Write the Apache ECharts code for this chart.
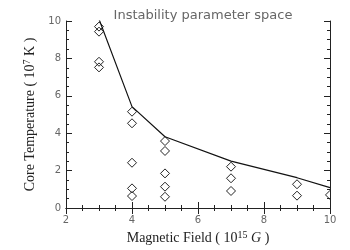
<!DOCTYPE html>
<html><head><meta charset="utf-8">
<script src="https://cdn.jsdelivr.net/npm/echarts@6/dist/echarts.min.js"></script>
<style>html,body{margin:0;padding:0;background:#fff}#c{width:350px;height:250px}</style>
</head><body><div id="c"></div>
<script>
var pointX = [3, 3, 3, 3, 4, 4, 4, 4, 4, 5, 5, 5, 5, 5, 7, 7, 7, 9, 9, 10];
var pointY = [9.70, 9.43, 7.82, 7.52, 5.15, 4.53, 2.42, 1.05, 0.64, 3.58, 3.05, 1.85, 1.14, 0.60, 2.21, 1.59, 0.91, 1.27, 0.66, 0.70];
var lineX = [3, 4, 5, 7, 9, 10];
var lineY = [10.1, 5.42, 3.81, 2.51, 1.62, 1.09];
var xTicks = [2, 4, 6, 8, 10];
var yTicks = [0, 2, 4, 6, 8, 10];

var chart = echarts.init(document.getElementById('c'), null, {renderer: 'canvas'});
var tickLabel = {color: '#666', fontFamily: 'DejaVu Sans', fontSize: 10};
var axisLine = {show: true, lineStyle: {color: '#222', width: 1}};
var tick = {show: true, inside: true, length: 6, lineStyle: {color: '#222'}};
var minor = {show: true, splitNumber: 4, length: 3, lineStyle: {color: '#222'}};
function pair(xs, ys) { return xs.map(function (v, i) { return [v, ys[i]]; }); }
chart.setOption({
  animation: false,
  title: {
    text: 'Instability parameter space', left: 198, top: 4, textAlign: 'center',
    textStyle: {color: '#666', fontFamily: 'DejaVu Sans', fontSize: 13, fontWeight: 'normal'}
  },
  grid: {left: 66, right: 20, top: 21, bottom: 42, containLabel: false, outerBoundsMode: 'none'},
  xAxis: [{
    type: 'value', min: xTicks[0], max: xTicks[xTicks.length - 1], interval: 2,
    axisLine: axisLine, axisTick: tick, minorTick: minor, splitLine: {show: false},
    axisLabel: Object.assign({margin: 7}, tickLabel),
    name: 'Magnetic Field ( 10{sup|15} {it|G} )', nameLocation: 'middle', nameGap: 22,
    nameTextStyle: {color: '#222', fontFamily: 'Liberation Serif', fontSize: 14,
      rich: {sup: {fontSize: 10, verticalAlign: 'top', padding: [0, 0, 6, 0], fontFamily: 'Liberation Serif', color: '#222'},
             it: {fontStyle: 'italic', fontSize: 14, fontFamily: 'Liberation Serif', color: '#222'}}}
  }, {
    type: 'value', position: 'top', min: 2, max: 10, interval: 2,
    axisLine: axisLine, axisTick: tick, minorTick: minor, splitLine: {show: false},
    axisLabel: {show: false}
  }],
  yAxis: [{
    type: 'value', min: yTicks[0], max: yTicks[yTicks.length - 1], interval: 2,
    axisLine: axisLine, axisTick: tick, minorTick: minor, splitLine: {show: false},
    axisLabel: Object.assign({margin: 5}, tickLabel),
    name: 'Core Temperature ( 10{sup|7} K )', nameLocation: 'middle', nameGap: 26,
    nameTextStyle: {color: '#222', fontFamily: 'Liberation Serif', fontSize: 14,
      rich: {sup: {fontSize: 10, verticalAlign: 'top', padding: [0, 0, 6, 0], fontFamily: 'Liberation Serif', color: '#222'}}}
  }, {
    type: 'value', position: 'right', min: 0, max: 10, interval: 2,
    axisLine: axisLine, axisTick: tick, minorTick: minor, splitLine: {show: false},
    axisLabel: {show: false}
  }],
  series: [{
    type: 'custom', data: pair(pointX, pointY), clip: true,
    encode: {x: 0, y: 1},
    renderItem: function (params, api) {
      var p = api.coord([api.value(0), api.value(1)]);
      var r = 4.5;
      return {
        type: 'polygon',
        shape: {points: [[p[0], p[1] - r], [p[0] + r, p[1]], [p[0], p[1] + r], [p[0] - r, p[1]]]},
        style: {fill: null, stroke: '#222', lineWidth: 1}
      };
    }
  }, {
    type: 'line', data: pair(lineX, lineY), showSymbol: false, symbol: 'none', clip: true,
    lineStyle: {color: '#111', width: 1.2}
  }]
});
</script></body></html>
